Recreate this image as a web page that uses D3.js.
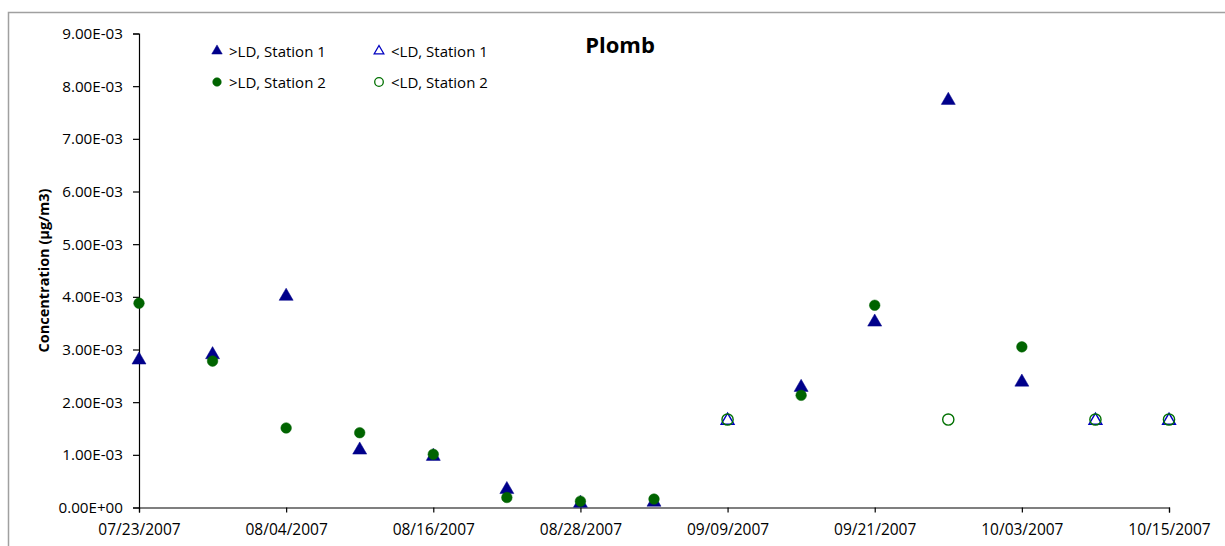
<!DOCTYPE html>
<html>
<head>
<meta charset="utf-8">
<script src="https://cdn.jsdelivr.net/npm/d3@7"></script>
<style>
  body { margin: 0; background: #fff; }
  svg { display: block; }
  text { font-family: "Open Sans", "Noto Sans", sans-serif; }
</style>
</head>
<body>
<svg id="chart" width="1225" height="546"></svg>
<script>
// Sampling dates (every 6 days)
const dates = ["2007-07-23","2007-07-29","2007-08-04","2007-08-10","2007-08-16","2007-08-22","2007-08-28",
               "2007-09-03","2007-09-09","2007-09-15","2007-09-21","2007-09-27","2007-10-03","2007-10-09","2007-10-15"];

// Lead concentrations in µg/m3 (×1e-3); null = not in that series
const st1Above = [2.82, 2.92, 4.03, 1.11, 0.99, 0.36, 0.10, 0.12, null, 2.30, 3.54, 7.75, 2.40, null, null];
const st1Below = [null, null, null, null, null, null, null, null, 1.67, null, null, null, null, 1.67, 1.67];
const st2Above = [3.88, 2.78, 1.51, 1.42, 1.01, 0.19, 0.12, 0.16, null, 2.13, 3.84, null, 3.05, null, null];
const st2Below = [null, null, null, null, null, null, null, null, 1.67, null, null, 1.67, null, 1.67, 1.67];

const yTicks = [0, 1, 2, 3, 4, 5, 6, 7, 8, 9];
const xTickDates = ["2007-07-23","2007-08-04","2007-08-16","2007-08-28","2007-09-09","2007-09-21","2007-10-03","2007-10-15"];

const legendItems = [
  { label: ">LD, Station 1", shape: "triangle", filled: true,  color: "#00008B" },
  { label: "<LD, Station 1", shape: "triangle", filled: false, color: "#0000C0" },
  { label: ">LD, Station 2", shape: "circle",   filled: true,  color: "#006400" },
  { label: "<LD, Station 2", shape: "circle",   filled: false, color: "#007000" }
];

const svg = d3.select("#chart");
const parse = d3.timeParse("%Y-%m-%d");
const fmtDate = d3.timeFormat("%m/%d/%Y");

const plot = { left: 139, right: 1169, top: 33.5, bottom: 507.5 };

const x = d3.scaleTime()
  .domain([parse(dates[0]), parse(dates[dates.length - 1])])
  .range([plot.left, plot.right]);
const y = d3.scaleLinear().domain([0, 9]).range([plot.bottom, plot.top]);

// Chart frame
svg.append("rect")
  .attr("x", 8.5).attr("y", 12.5).attr("width", 1240).attr("height", 560)
  .attr("fill", "none").attr("stroke", "#a0a0a0").attr("stroke-width", 1.5);

// Y axis
const yAxis = d3.axisLeft(y).tickValues(yTicks).tickSize(6).tickPadding(10)
  .tickFormat(d => d === 0 ? "0.00E+00" : d.toFixed(2) + "E-03");
const gy = svg.append("g").attr("transform", `translate(${plot.left},0)`).call(yAxis);
gy.select(".domain").attr("stroke", "#000").attr("stroke-width", 1.2);
gy.selectAll(".tick line").attr("stroke", "#000").attr("stroke-width", 1.2);
gy.selectAll(".tick text").attr("font-size", 15.2).attr("fill", "#000");

// X axis
const xAxis = d3.axisBottom(x).tickValues(xTickDates.map(parse)).tickSize(5).tickPadding(11)
  .tickFormat(fmtDate);
const gx = svg.append("g").attr("transform", `translate(0,${plot.bottom})`).call(xAxis);
gx.select(".domain").attr("stroke", "#000").attr("stroke-width", 1.2);
gx.selectAll(".tick line").attr("stroke", "#000").attr("stroke-width", 1.2);
gx.selectAll(".tick text").attr("font-size", 15.5).attr("fill", "#000");

// Axis title
svg.append("text")
  .attr("transform", `translate(49,${(plot.top + plot.bottom) / 2}) rotate(-90)`)
  .attr("text-anchor", "middle")
  .attr("font-size", 14.5).attr("font-weight", "bold")
  .text("Concentration (µg/m3)");

// Chart title
svg.append("text")
  .attr("x", 620).attr("y", 53)
  .attr("text-anchor", "middle")
  .attr("font-size", 22).attr("font-weight", "bold")
  .text("Plomb");

const triangle = d3.symbol().type(d3.symbolTriangle).size(85);
const triangleOpen = d3.symbol().type(d3.symbolTriangle).size(70);

function drawSeries(values, shape, filled, color) {
  const pts = dates.map((d, i) => ({ date: parse(d), v: values[i] })).filter(p => p.v !== null);
  const g = svg.append("g");
  if (shape === "triangle") {
    g.selectAll("path").data(pts).enter().append("path")
      .attr("d", filled ? triangle : triangleOpen)
      .attr("transform", p => `translate(${x(p.date)},${y(p.v) + 1})`)
      .attr("fill", filled ? color : "none")
      .attr("stroke", color)
      .attr("stroke-width", filled ? 0.5 : 1.5);
  } else {
    g.selectAll("circle").data(pts).enter().append("circle")
      .attr("cx", p => x(p.date)).attr("cy", p => y(p.v))
      .attr("r", filled ? 5.3 : 5.6)
      .attr("fill", filled ? color : "none")
      .attr("stroke", color)
      .attr("stroke-width", filled ? 0.5 : 1.4);
  }
}

drawSeries(st1Above, "triangle", true, "#00008B");
drawSeries(st1Below, "triangle", false, "#0000C0");
drawSeries(st2Above, "circle", true, "#006400");
drawSeries(st2Below, "circle", false, "#007000");

// Legend (2 × 2)
const legendPos = [[217, 51], [379, 51], [217, 82], [379, 82]];
const lg = svg.append("g");
legendItems.forEach((item, i) => {
  const [lx, ly] = legendPos[i];
  if (item.shape === "triangle") {
    lg.append("path")
      .attr("d", d3.symbol().type(d3.symbolTriangle).size(item.filled ? 48 : 40)())
      .attr("transform", `translate(${lx},${ly})`)
      .attr("fill", item.filled ? item.color : "none")
      .attr("stroke", item.color).attr("stroke-width", item.filled ? 0.5 : 1.3);
  } else {
    lg.append("circle").attr("cx", lx).attr("cy", ly).attr("r", 4.3)
      .attr("fill", item.filled ? item.color : "none")
      .attr("stroke", item.color).attr("stroke-width", item.filled ? 0.5 : 1.3);
  }
  lg.append("text").attr("x", lx + 12).attr("y", ly + 5.5)
    .attr("font-size", 15).attr("fill", "#000").text(item.label);
});
</script>
</body>
</html>
